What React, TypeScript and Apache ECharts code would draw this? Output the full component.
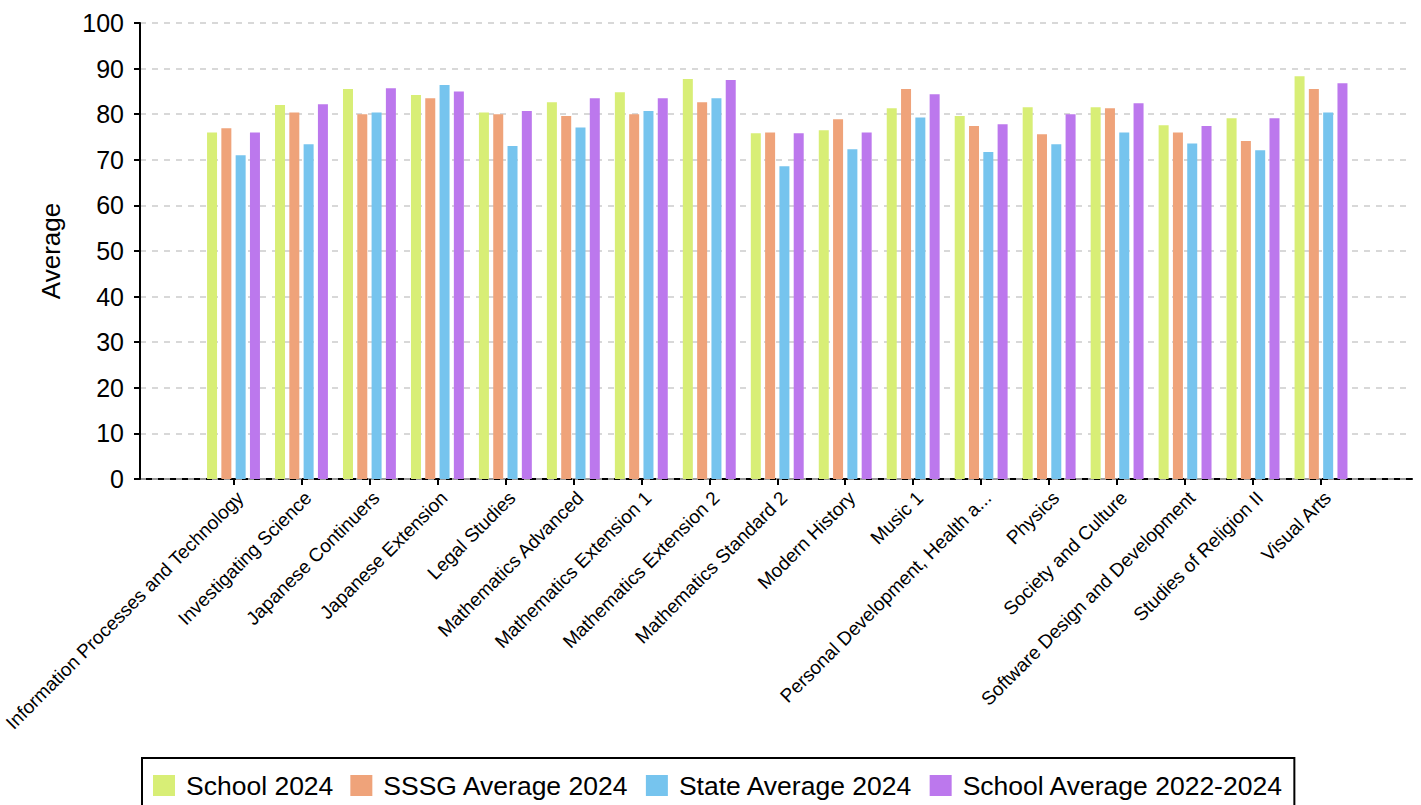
import React, { useEffect, useRef } from "react";
import * as echarts from "echarts";

const categories = [
  "Information Processes and Technology",
  "Investigating Science",
  "Japanese Continuers",
  "Japanese Extension",
  "Legal Studies",
  "Mathematics Advanced",
  "Mathematics Extension 1",
  "Mathematics Extension 2",
  "Mathematics Standard 2",
  "Modern History",
  "Music 1",
  "Personal Development, Health a...",
  "Physics",
  "Society and Culture",
  "Software Design and Development",
  "Studies of Religion II",
  "Visual Arts",
];

const school2024 = [76.0, 82.0, 85.5, 84.2, 80.4, 82.6, 84.8, 87.7, 75.8, 76.5, 81.3, 79.6, 81.5, 81.5, 77.6, 79.1, 88.3];
const sssgAverage2024 = [76.9, 80.4, 80.0, 83.5, 80.0, 79.6, 80.0, 82.6, 76.0, 78.9, 85.5, 77.4, 75.6, 81.3, 76.0, 74.1, 85.5];
const stateAverage2024 = [71.0, 73.4, 80.4, 86.4, 73.0, 77.1, 80.7, 83.5, 68.6, 72.3, 79.3, 71.7, 73.4, 76.0, 73.6, 72.1, 80.4];
const schoolAverage2022_2024 = [76.0, 82.2, 85.7, 85.0, 80.7, 83.5, 83.5, 87.5, 75.8, 76.0, 84.4, 77.8, 80.0, 82.4, 77.4, 79.1, 86.8];

const seriesNames = ["School 2024", "SSSG Average 2024", "State Average 2024", "School Average 2022-2024"];
const seriesColors = ["#d8ee76", "#efa37a", "#76c4ee", "#bc78ed"];
const seriesData = [school2024, sssgAverage2024, stateAverage2024, schoolAverage2022_2024];

const FONT = "'Liberation Sans', Arial, Helvetica, sans-serif";

export default function App() {
  const ref = useRef<HTMLDivElement>(null);

  useEffect(() => {
    if (!ref.current) return;
    const chart = echarts.init(ref.current, undefined, { renderer: "svg" });
    chart.setOption({
      animation: false,
      backgroundColor: "#ffffff",
      textStyle: { fontFamily: FONT, color: "#000" },
      legend: {
        data: seriesNames,
        left: 142,
        top: 758,
        orient: "horizontal",
        icon: "rect",
        itemWidth: 22,
        itemHeight: 21,
        itemGap: 17,
        padding: [14, 11, 14, 11],
        borderColor: "#000",
        borderWidth: 2,
        borderRadius: 0,
        textStyle: { fontSize: 26.5, color: "#000", fontFamily: FONT, padding: [0, 0, 0, 6] },
      },
      grid: [
        { left: 140, right: 9, top: 23, bottom: 326, containLabel: false },
        { left: 195, right: 66, top: 23, bottom: 326, containLabel: false },
      ],
      xAxis: [
        {
          type: "value",
          gridIndex: 0,
          min: 0,
          max: 1,
          z: -1,
          axisLine: { show: true, onZero: false, lineStyle: { color: "#000", width: 2 } },
          axisTick: { show: false },
          axisLabel: { show: false },
          splitLine: { show: false },
        },
        {
          type: "category",
          gridIndex: 1,
          data: categories,
          boundaryGap: true,
          axisLine: { show: false },
          axisTick: {
            show: true,
            alignWithLabel: true,
            length: 6,
            lineStyle: { color: "#000", width: 2 },
          },
          axisLabel: {
            interval: 0,
            rotate: 45,
            fontSize: 19,
            color: "#000",
            fontFamily: FONT,
            margin: 9,
            align: "right",
            verticalAlign: "top",
          },
          splitLine: { show: false },
        },
      ],
      yAxis: [
        {
          type: "value",
          gridIndex: 0,
          min: 0,
          max: 100,
          interval: 10,
          name: "Average",
          nameLocation: "middle",
          nameRotate: 90,
          nameGap: 76,
          nameTextStyle: { fontSize: 26, color: "#000", fontFamily: FONT },
          axisLine: { show: true, lineStyle: { color: "#000", width: 2 } },
          axisTick: { show: true, length: 6, lineStyle: { color: "#000", width: 2 } },
          axisLabel: { fontSize: 25, color: "#000", margin: 16, fontFamily: FONT },
          splitLine: { show: true, lineStyle: { color: "#cccccc", width: 1.5, type: [6, 6] } },
        },
        {
          type: "value",
          gridIndex: 1,
          min: 0,
          max: 100,
          interval: 10,
          show: false,
          splitLine: { show: false },
        },
      ],
      series: seriesNames.map((name, i) => ({
        name,
        type: "bar",
        xAxisIndex: 1,
        yAxisIndex: 1,
        data: seriesData[i],
        barWidth: 10,
        barGap: "43%",
        itemStyle: { color: seriesColors[i] },
        emphasis: { disabled: true },
      })),
    });
    return () => chart.dispose();
  }, []);

  return (
    <div
      ref={ref}
      style={{ position: "fixed", left: 0, top: 0, width: 1421, height: 805, background: "#fff" }}
    />
  );
}
